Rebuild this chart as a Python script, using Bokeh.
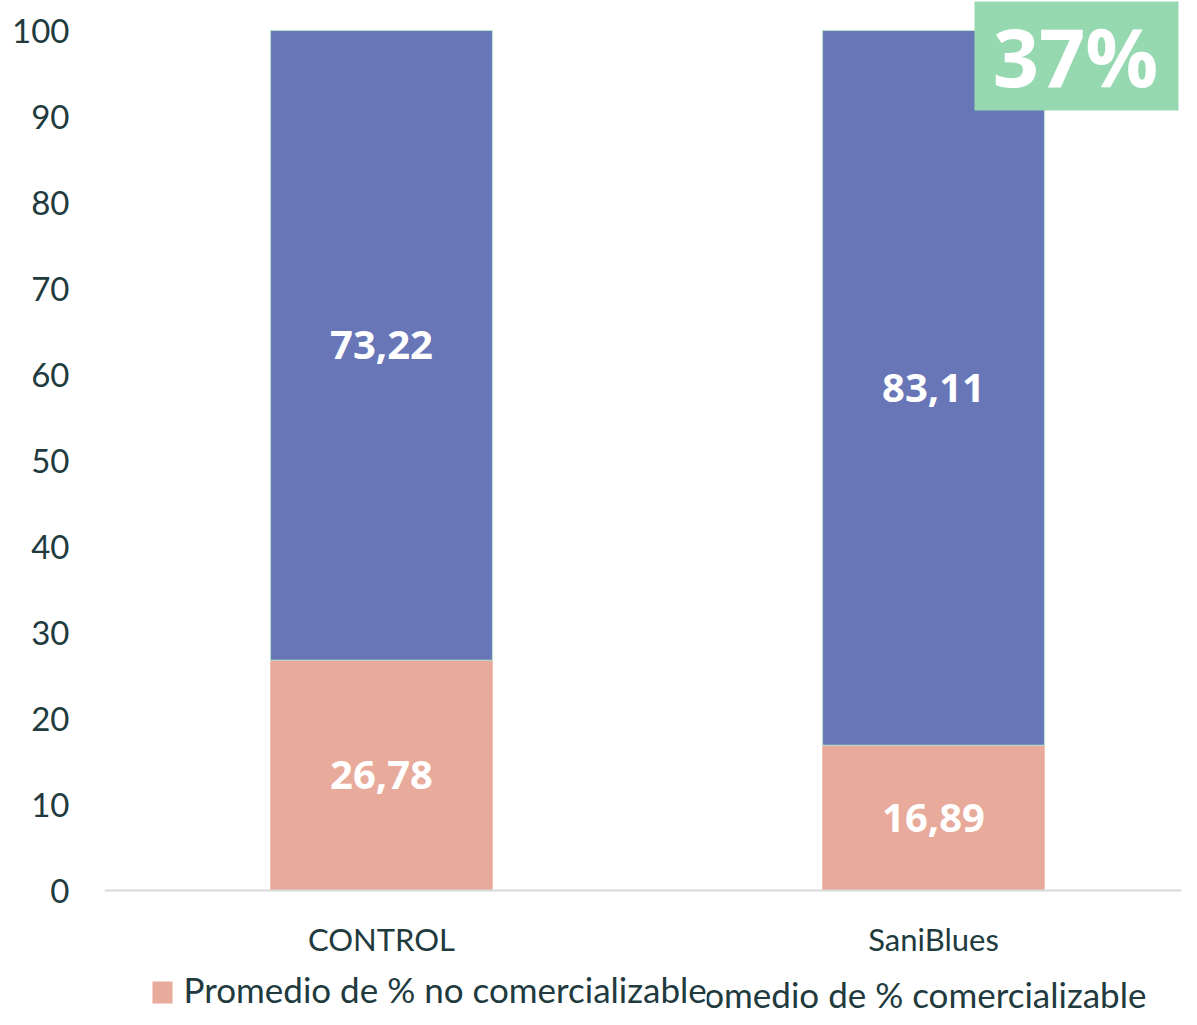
from bokeh.plotting import figure
from bokeh.models import ColumnDataSource, FixedTicker, BoxAnnotation, Label, Span
from bokeh.core.properties import value
from bokeh.embed import file_html
from bokeh.resources import INLINE

categories = ["CONTROL", "SaniBlues"]
no_comercializable = [26.78, 16.89]
comercializable = [73.22, 83.11]
no_com_labels = ["26,78", "16,89"]
com_labels = ["73,22", "83,11"]
y_ticks = [0, 10, 20, 30, 40, 50, 60, 70, 80, 90, 100]
series_names = ["Promedio de % no comercializable", "Promedio de % comercializable"]
highlight_text = "37%"

SALMON = "#e8aa9a"
BLUE = "#6876b8"
GREEN = "#96d9b1"
TEXT = "#213a3e"

xs = list(range(len(categories)))
src = ColumnDataSource(dict(
    x=xs,
    cat=categories,
    no_com=no_comercializable,
    com=comercializable,
    mid_no=[v / 2 for v in no_comercializable],
    mid_com=[a + b / 2 for a, b in zip(no_comercializable, comercializable)],
    lab_no=no_com_labels,
    lab_com=com_labels,
    cat_y=[-5.6] * len(categories),
))

p = figure(width=1181, height=1009, output_backend="svg", toolbar_location=None,
           x_range=(-0.5018, 1.4493), y_range=(-13.837, 103.49),
           min_border_left=104, min_border_right=0, min_border_top=0, min_border_bottom=0)
p.outline_line_color = None
p.xgrid.visible = False
p.ygrid.visible = False
p.xaxis.visible = False

p.vbar_stack(["no_com", "com"], x="x", width=0.402, source=src,
             color=[SALMON, BLUE], line_color=["#efc0b3", "#b8e6cc"], line_width=1)

p.text(x="x", y="mid_no", text="lab_no", source=src, text_color="white",
       text_font=value("Open Sans"), text_font_style="bold", text_font_size="40px",
       text_align="center", text_baseline="middle")
p.text(x="x", y="mid_com", text="lab_com", source=src, text_color="white",
       text_font=value("Open Sans"), text_font_style="bold", text_font_size="40px",
       text_align="center", text_baseline="middle")

# category axis: baseline + labels
p.add_layout(Span(location=0, dimension="width", line_color="#d9d9d9", line_width=2))
p.text(x="x", y="cat_y", text="cat", source=src, text_color=TEXT,
       text_font=value("Lato"), text_font_size="31px",
       text_align="center", text_baseline="middle")

# y axis
p.yaxis.ticker = FixedTicker(ticks=y_ticks)
p.yaxis.axis_line_color = None
p.yaxis.major_tick_line_color = None
p.yaxis.minor_tick_line_color = None
p.yaxis.major_tick_out = 0
p.yaxis.major_tick_in = 0
p.yaxis.major_label_standoff = 35
p.yaxis.major_label_text_font = "Lato"
p.yaxis.major_label_text_font_size = "33px"
p.yaxis.major_label_text_color = TEXT

# highlight box
p.add_layout(BoxAnnotation(left=1.0743, right=1.4438, bottom=90.70, top=103.37,
                           fill_color=GREEN, fill_alpha=1, line_color=None))
p.add_layout(Label(x=1.2572, y=97.15, text=highlight_text, text_color="white",
                   text_font="Open Sans", text_font_style="bold", text_font_size="81px",
                   text_align="center", text_baseline="middle"))

# legend (drawn manually, reproducing the overlap of the original)
p.add_layout(BoxAnnotation(left=0.4692, right=0.5054, bottom=-13.72, top=-11.16,
                           fill_color=BLUE, fill_alpha=1, line_color=None))
p.add_layout(Label(x=0.5254, y=-12.03, text=series_names[1], text_color=TEXT,
                   text_font="Lato", text_font_size="35px",
                   text_align="left", text_baseline="middle"))
p.add_layout(Label(x=-0.3587, y=-11.45, text=series_names[0], text_color=TEXT,
                   text_font="Lato", text_font_size="35px",
                   text_align="left", text_baseline="middle",
                   background_fill_color="white", background_fill_alpha=1))
p.add_layout(BoxAnnotation(left=-0.4149, right=-0.3786, bottom=-13.14, top=-10.58,
                           fill_color=SALMON, fill_alpha=1, line_color=None))

open("out.html", "w").write(file_html(p, INLINE))
